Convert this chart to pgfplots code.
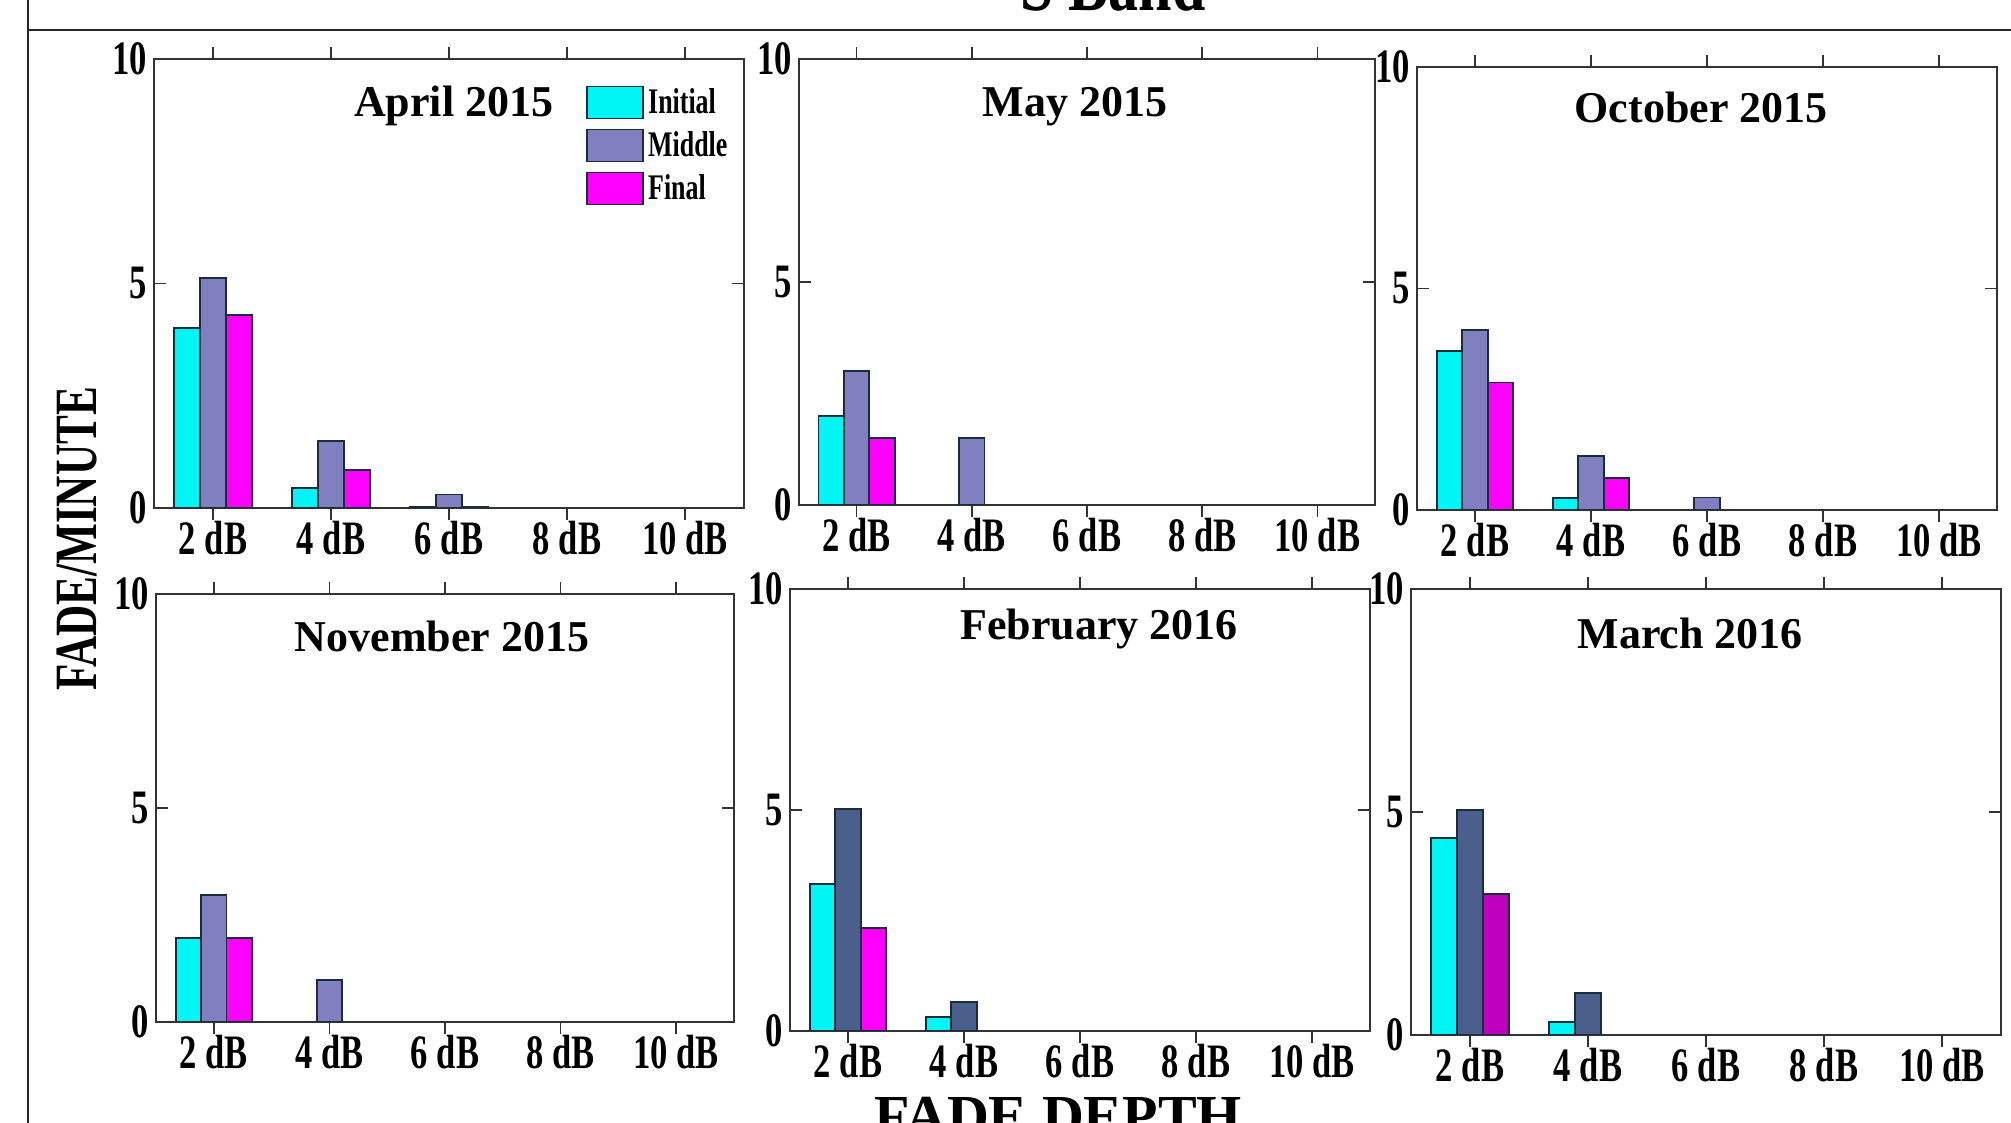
\documentclass[border=0pt]{standalone}
\usepackage{fontspec}
\setmainfont{Liberation Serif}
\usepackage{graphicx}
\usepackage{pgfplots}
\pgfplotsset{compat=1.18}

\definecolor{cIni}{RGB}{0,245,245}
\definecolor{cMid}{RGB}{128,128,192}
\definecolor{cMidD}{RGB}{75,95,140}
\definecolor{cFin}{RGB}{255,0,255}
\definecolor{cFinD}{RGB}{190,0,190}
\definecolor{edge}{RGB}{25,45,60}

\newcommand{\cond}[1]{\scalebox{0.72}[1]{\bfseries #1}}

\pgfplotsset{
  panel/.style={
    scale only axis, anchor=north west,
    xmin=-0.5, xmax=4.5, ymin=0, ymax=10,
    xtick={0,1,2,3,4},
    xticklabels={\cond{2 dB},\cond{4 dB},\cond{6 dB},\cond{8 dB},\cond{10 dB}},
    ytick={0,5,10}, yticklabels={\cond{0},\cond{5},\cond{10}},
    tick label style={font=\fontsize{24}{24}\selectfont},
    xticklabel style={yshift=3pt},
    major tick length=6pt,
    tick style={black!80, line width=0.8pt},
    axis line style={black!80, line width=1.2pt},
    ybar, bar width=0.22,
    title style={font=\fontsize{22}{22}\selectfont\bfseries, anchor=center},
  },
  bI/.style={fill=cIni, draw=edge, line width=0.9pt, bar shift=-0.22},
  bM/.style={fill=cMid, draw=edge, line width=0.9pt, bar shift=0},
  bMD/.style={fill=cMidD, draw=edge, line width=0.9pt, bar shift=0},
  bF/.style={fill=cFin, draw=edge, line width=0.9pt, bar shift=0.22},
  bFD/.style={fill=cFinD, draw=edge, line width=0.9pt, bar shift=0.22},
  legbox/.style={legend image code/.code={\draw[##1] (0pt,-8pt) rectangle (28pt,8pt);}},
}

\begin{document}
\begin{tikzpicture}
\path[use as bounding box] (0,0) rectangle (1005.5pt,561.5pt);
\clip (0,0) rectangle (1005.5pt,561.5pt);

% frame
\draw[line width=1pt, black!85] (14pt,0) -- (14pt,561.5pt);
\draw[line width=1pt, black!85] (14pt,546.5pt) -- (1005.5pt,546.5pt);
\node[font=\fontsize{40}{40}\selectfont\bfseries, anchor=base] at (556.5pt,556pt) {\scalebox{0.75}[1]{S Band}};

% April 2015
\begin{axis}[panel, at={(77pt,532pt)}, width=295pt, height=224.5pt,
  title={April 2015}, title style={at={(rel axis cs:0.508,0.868)}},
  legend style={at={(rel axis cs:0.722,0.953)}, anchor=north west, draw=none, fill=none,
    row sep=3.5pt, font=\fontsize{18}{18}\selectfont, nodes={inner xsep=2pt}},
  legend cell align=left]
\addplot[bI, legbox] coordinates {(0,4.0) (1,0.45) (2,0.03)};
\addplot[bM, legbox] coordinates {(0,5.13) (1,1.5) (2,0.3)};
\addplot[bF, legbox] coordinates {(0,4.3) (1,0.85) (2,0.03)};
\legend{\cond{Initial},\cond{Middle},\cond{Final}}
\end{axis}

% May 2015
\begin{axis}[panel, at={(399.5pt,532pt)}, width=288pt, height=223pt,
  title={May 2015}, title style={at={(rel axis cs:0.479,0.867)}}]
\addplot[bI] coordinates {(0,2.0)};
\addplot[bM] coordinates {(0,3.0) (1,1.5)};
\addplot[bF] coordinates {(0,1.5)};
\end{axis}

% October 2015
\begin{axis}[panel, at={(708.5pt,528pt)}, width=290pt, height=221.5pt,
  title={October 2015}, title style={at={(rel axis cs:0.49,0.882)}}]
\addplot[bI] coordinates {(0,3.58) (1,0.27)};
\addplot[bM] coordinates {(0,4.07) (1,1.22) (2,0.28)};
\addplot[bF] coordinates {(0,2.88) (1,0.73)};
\end{axis}

% November 2015
\begin{axis}[panel, at={(78pt,264.5pt)}, width=289pt, height=214pt,
  title={November 2015}, title style={at={(rel axis cs:0.495,0.872)}}]
\addplot[bI] coordinates {(0,1.97)};
\addplot[bM] coordinates {(0,2.97) (1,0.98)};
\addplot[bF] coordinates {(0,1.97)};
\end{axis}

% February 2016
\begin{axis}[panel, at={(395pt,267pt)}, width=290pt, height=221pt,
  title={February 2016}, title style={at={(rel axis cs:0.533,0.882)}}]
\addplot[bI] coordinates {(0,3.33) (1,0.32)};
\addplot[bMD] coordinates {(0,5.02) (1,0.66)};
\addplot[bF] coordinates {(0,2.33)};
\end{axis}

% March 2016
\begin{axis}[panel, at={(705.5pt,267pt)}, width=295pt, height=223pt,
  title={March 2016}, title style={at={(rel axis cs:0.473,0.874)}}]
\addplot[bI] coordinates {(0,4.42) (1,0.3)};
\addplot[bMD] coordinates {(0,5.05) (1,0.94)};
\addplot[bFD] coordinates {(0,3.17)};
\end{axis}

\node[rotate=90, font=\fontsize{30}{30}\selectfont\bfseries] at (38.5pt,292pt) {\scalebox{0.72}[1]{FADE/MINUTE}};
\node[font=\fontsize{29}{29}\selectfont\bfseries, anchor=base] at (529pt,-6.5pt) {FADE DEPTH};
\end{tikzpicture}
\end{document}
